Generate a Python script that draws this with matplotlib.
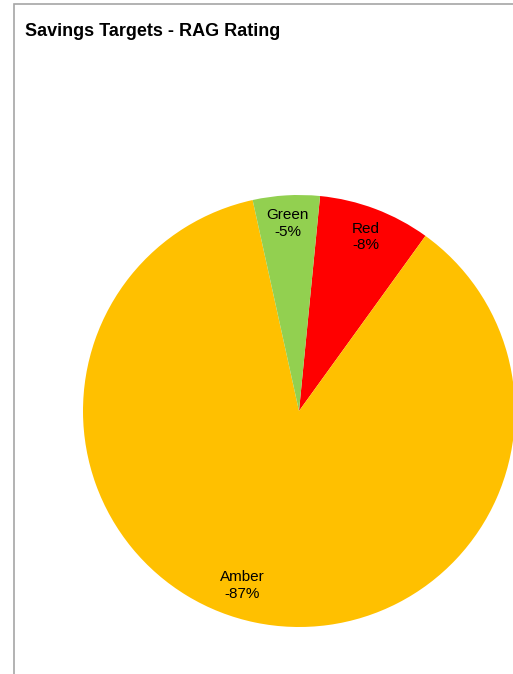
import numpy as np
import matplotlib.pyplot as plt
from matplotlib.patches import Rectangle

plt.rcParams['font.family'] = ['Liberation Sans', 'DejaVu Sans']

## data (clockwise from the first slice)
categories = ['Red', 'Amber', 'Green']
shares = [8.4, 86.6, 5.0]
pct_labels = ['-8%', '-87%', '-5%']
colors = ['#ff0000', '#ffc000', '#92d050']

W, H = 513, 674
fig = plt.figure(figsize=(W / 100, H / 100), dpi=100)
ax = fig.add_axes([0, 0, 1, 1])

##chart border (left and top visible)
ax.add_patch(Rectangle((13.5, -10), 600, H - 3.5 + 10, fill=False,
                       edgecolor='#a6a6a6', lw=1.2, zorder=0))

cx, cy, r = 299, H - 411, 216
labels = [c + '\n' + p for c, p in zip(categories, pct_labels)]
wedges, texts = ax.pie(shares, labels=labels, colors=colors,
                       center=(cx, cy), radius=r,
                       startangle=84.4, counterclock=False,
                       labeldistance=0.87, frame=True,
                       textprops=dict(fontsize=11, ha='center', va='center',
                                      multialignment='center', color='black'))
for t in texts:
    t.set_horizontalalignment('center')
    t.set_linespacing(1.22)

##Excel "best fit" puts the big label a bit off the slice middle
ang = np.deg2rad(-90 - 18)
texts[1].set_position((cx + 0.85 * r * np.cos(ang), cy + 0.85 * r * np.sin(ang)))
texts[0].set_position((texts[0].get_position()[0], texts[0].get_position()[1] - 2))

ax.set_xlim(0, W)
ax.set_ylim(0, H)
ax.set_aspect('equal')
ax.axis('off')

ax.text(25, H - 31, 'Savings Targets - RAG Rating', fontsize=13,
        fontweight='bold', ha='left', va='center')

fig.savefig('out.png', dpi=100)
